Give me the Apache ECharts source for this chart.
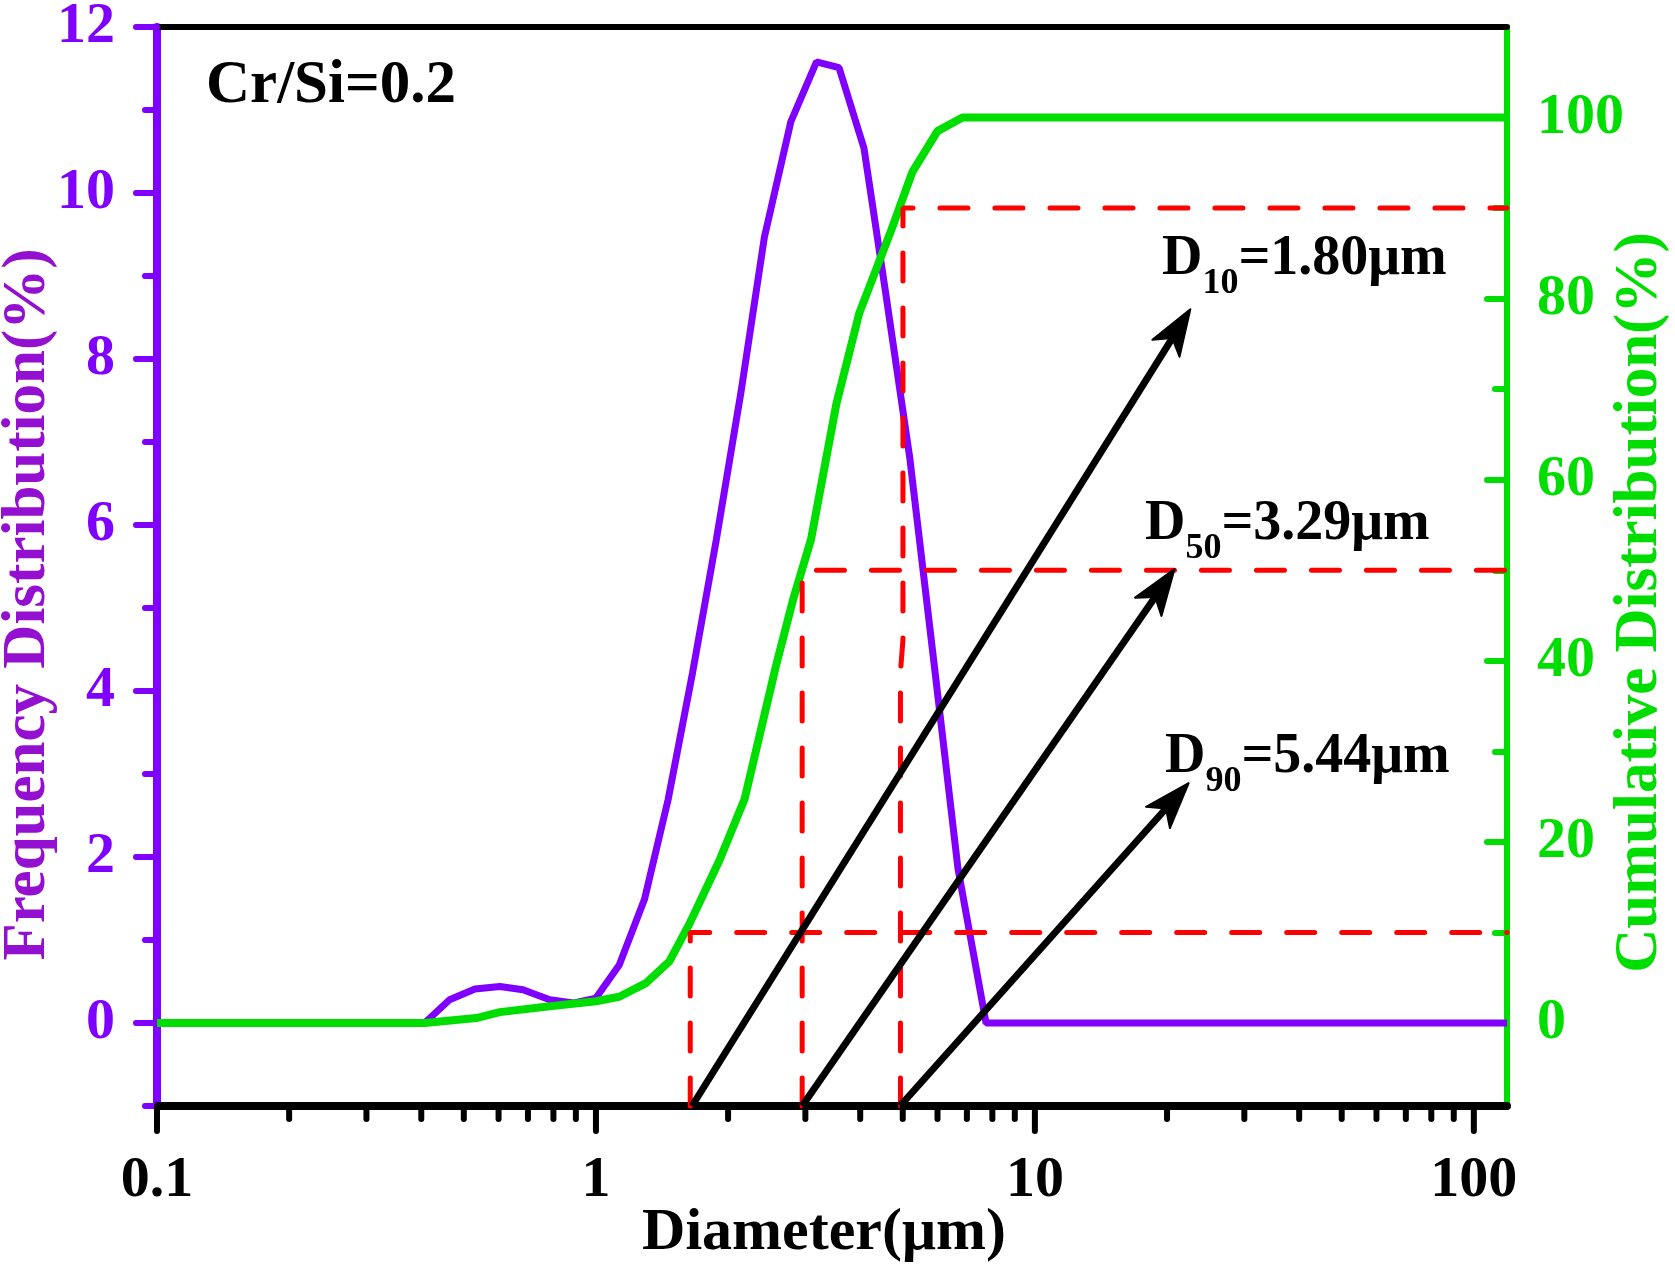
<!DOCTYPE html>
<html>
<head>
<meta charset="utf-8">
<script src="https://cdn.jsdelivr.net/npm/echarts@6/dist/echarts.min.js"></script>
<style>
html,body{margin:0;padding:0;background:#fff;}
#chart{width:1675px;height:1269px;}
</style>
</head>
<body>
<div id="chart"></div>
<script>
// ---------- data ----------
const X_MIN = 0.1, X_MAX = 119;
const LEFT_MIN = -1, LEFT_MAX = 12;
const RIGHT_MAX = 110, RIGHT_MIN = -110 / 12;

// Frequency distribution (%), purple, left axis
const freqX = [0.1, 0.407, 0.464, 0.530, 0.604, 0.682, 0.785, 0.887, 1.0, 1.13, 1.29, 1.46, 1.66, 1.88, 2.14, 2.42, 2.78, 3.18, 3.58, 4.08, 4.57, 5.19, 5.89, 6.68, 7.74, 119];
const freqY = [0, 0, 0.28, 0.41, 0.44, 0.40, 0.28, 0.24, 0.30, 0.70, 1.49, 2.69, 4.22, 5.82, 7.6, 9.47, 10.86, 11.58, 11.51, 10.54, 8.8, 6.8, 4.34, 1.86, 0, 0];

// Cumulative distribution (%), green, right axis
const cumX = [0.1, 0.407, 0.534, 0.604, 0.785, 1.0, 1.13, 1.30, 1.47, 1.635, 1.913, 2.18, 2.57, 2.81, 3.09, 3.53, 3.98, 4.71, 5.26, 6.0, 6.84, 119];
const cumY = [0, 0, 0.55, 1.2, 1.85, 2.4, 2.9, 4.4, 6.8, 11.0, 18.0, 24.7, 39.4, 46.7, 53.4, 68.4, 78.4, 87.6, 94.0, 98.5, 100, 100];

// Red dashed D10 / D50 / D90 guide lines (right-axis values)
const d10LineX = [1.64, 1.64, 119];
const d10LineY = [RIGHT_MIN, 10, 10];
const d50LineX = [2.95, 2.95, 119];
const d50LineY = [RIGHT_MIN, 50, 50];
const d90LineX = [4.94, 4.94, 5.005, 5.005, 119];
const d90LineY = [RIGHT_MIN, 38.8, 42.3, 90, 90];

// Black arrows (left-axis values)
const arrowStartX = [1.655, 2.95, 4.93];
const arrowStartY = [-1, -1, -1];
const arrowEndX = [22.6, 20.8, 22.4];
const arrowEndY = [8.60, 5.47, 2.89];

// Tick values
const xMajorTicks = [0.1, 1, 10, 100];
const xMinorTicks = [0.2,0.3,0.4,0.5,0.6,0.7,0.8,0.9, 2,3,4,5,6,7,8,9, 20,30,40,50,60,70,80,90];
const leftMajor = [0, 2, 4, 6, 8, 10, 12];
const leftMinor = [-1, 1, 3, 5, 7, 9, 11];
const rightMajor = [0, 20, 40, 60, 80, 100];
const rightMinor = [10, 30, 50, 70, 90];

// Texts
const sampleLabel = 'Cr/Si=0.2';
const dLabels = [['10', '=1.80μm'], ['50', '=3.29μm'], ['90', '=5.44μm']];
const xTitle = 'Diameter(μm)';
const leftTitle = 'Frequency Distribution(%)';
const rightTitle = 'Cumulative Distribution(%)';

// ---------- styles ----------
const FONT = '"Liberation Serif", "Times New Roman", serif';
const PURPLE = '#7F00FF';
const PURPLE_NAME = '#9410D0';
const GREEN = '#00DD00';
const RED = '#FF0000';

const zip = (a, b) => a.map((v, i) => [v, b[i]]);

const chart = echarts.init(document.getElementById('chart'), null, {renderer: 'canvas'});

const dashStyle = {color: RED, width: 5, type: [28, 27], cap: 'round'};

function redLine(xs, ys) {
  return {
    type: 'line', xAxisIndex: 0, yAxisIndex: 2, data: zip(xs, ys),
    symbol: 'none', showSymbol: false, clip: false, z: 4, silent: true,
    lineStyle: dashStyle
  };
}

const tickData = xMajorTicks.map(v => [v, LEFT_MIN, 1]).concat(xMinorTicks.map(v => [v, LEFT_MIN, 0]));
const arrowData = arrowStartX.map((v, i) => [v, arrowStartY[i], arrowEndX[i], arrowEndY[i]]);

const labelTop = [232, 497, 730];
const labelLeft = [1162, 1145, 1165];

const graphics = [
  {
    type: 'text', x: 206, y: 56, z: 10,
    style: {text: sampleLabel, font: 'bold 61px ' + FONT, fill: '#000', verticalAlign: 'top', align: 'left'}
  }
].concat(dLabels.map((d, i) => ({
  type: 'text', x: labelLeft[i], y: labelTop[i], z: 10,
  style: {
    text: '{m|D}{s|' + d[0] + '}{m|' + d[1] + '}',
    verticalAlign: 'top', align: 'left',
    rich: {
      m: {font: 'bold 56px ' + FONT, fill: '#000', lineHeight: 60, verticalAlign: 'top'},
      s: {font: 'bold 36px ' + FONT, fill: '#000', lineHeight: 36, verticalAlign: 'top', padding: [34, 0, 0, 0]}
    }
  }
})));

const option = {
  animation: false,
  backgroundColor: '#fff',
  grid: {left: 157, right: 168, top: 27, bottom: 163, containLabel: false, outerBoundsMode: 'none'},
  xAxis: [
    {
      type: 'log', logBase: 10, min: X_MIN, max: X_MAX, position: 'bottom',
      axisLine: {show: true, onZero: false, lineStyle: {color: '#000', width: 8}},
      axisTick: {show: false},
      minorTick: {show: false},
      splitLine: {show: false},
      axisLabel: {
        color: '#000', fontSize: 58, fontWeight: 'bold', fontFamily: FONT, margin: 46,
        formatter: function (v) {
          const l = Math.log10(v);
          return Math.abs(l - Math.round(l)) < 1e-6 ? String(+v.toPrecision(6)) : '';
        }
      },
      name: xTitle, nameLocation: 'middle', nameGap: 97, nameMoveOverlap: false,
      nameTextStyle: {color: '#000', fontSize: 60, fontWeight: 'bold', fontFamily: FONT, padding: [0, 16, 0, 0]}
    },
    {
      type: 'log', logBase: 10, min: X_MIN, max: X_MAX, position: 'top',
      axisLine: {show: true, onZero: false, lineStyle: {color: '#000', width: 6}},
      axisTick: {show: false}, axisLabel: {show: false}, splitLine: {show: false}, minorTick: {show: false}
    }
  ],
  yAxis: [
    {
      type: 'value', position: 'left', min: LEFT_MIN, max: LEFT_MAX, interval: 1,
      axisLine: {show: true, onZero: false, lineStyle: {color: PURPLE, width: 8}},
      axisTick: {show: true, inside: false, length: 21, customValues: leftMajor, lineStyle: {color: PURPLE, width: 6, cap: 'round'}},
      axisLabel: {customValues: leftMajor, color: PURPLE, fontSize: 58, fontWeight: 'bold', fontFamily: FONT, margin: 42},
      splitLine: {show: false},
      name: leftTitle, nameLocation: 'middle', nameGap: 98, nameRotate: 90, nameMoveOverlap: false,
      nameTextStyle: {color: PURPLE_NAME, fontSize: 61, fontWeight: 'bold', fontFamily: FONT, padding: [0, 76, 0, 0]}
    },
    {
      type: 'value', position: 'left', min: LEFT_MIN, max: LEFT_MAX, interval: 1,
      axisLine: {show: false},
      axisTick: {show: true, inside: false, length: 12, customValues: leftMinor, lineStyle: {color: PURPLE, width: 6, cap: 'round'}},
      axisLabel: {show: false}, splitLine: {show: false}
    },
    {
      type: 'value', position: 'right', min: RIGHT_MIN, max: RIGHT_MAX,
      axisLine: {show: true, onZero: false, lineStyle: {color: GREEN, width: 6}},
      axisTick: {show: true, inside: true, length: 20, customValues: rightMajor, lineStyle: {color: GREEN, width: 6, cap: 'round'}},
      axisLabel: {customValues: rightMajor, color: GREEN, fontSize: 58, fontWeight: 'bold', fontFamily: FONT, margin: 30},
      splitLine: {show: false},
      name: rightTitle, nameLocation: 'middle', nameGap: 103, nameRotate: 90, nameMoveOverlap: false,
      nameTextStyle: {color: GREEN, fontSize: 61, fontWeight: 'bold', fontFamily: FONT, padding: [0, 72, 0, 0]}
    },
    {
      type: 'value', position: 'right', min: RIGHT_MIN, max: RIGHT_MAX,
      axisLine: {show: false},
      axisTick: {show: true, inside: true, length: 12, customValues: rightMinor, lineStyle: {color: GREEN, width: 6, cap: 'round'}},
      axisLabel: {show: false}, splitLine: {show: false}
    }
  ],
  series: [
    {
      name: 'Frequency', type: 'line', xAxisIndex: 0, yAxisIndex: 0,
      data: zip(freqX, freqY), symbol: 'none', showSymbol: false, z: 2, silent: true,
      lineStyle: {color: PURPLE, width: 7}
    },
    {
      name: 'Cumulative', type: 'line', xAxisIndex: 0, yAxisIndex: 2,
      data: zip(cumX, cumY), symbol: 'none', showSymbol: false, z: 3, silent: true,
      lineStyle: {color: GREEN, width: 8}
    },
    redLine(d10LineX, d10LineY),
    redLine(d50LineX, d50LineY),
    redLine(d90LineX, d90LineY),
    {
      name: 'xticks', type: 'custom', coordinateSystem: 'cartesian2d', xAxisIndex: 0, yAxisIndex: 0,
      data: tickData, encode: {x: 0, y: 1}, clip: false, z: 6, silent: true,
      renderItem: function (params, api) {
        const p = api.coord([api.value(0), api.value(1)]);
        const len = api.value(2) ? 25 : 13;
        return {type: 'line', shape: {x1: p[0], y1: p[1], x2: p[0], y2: p[1] + len},
          style: {stroke: '#000', lineWidth: 6, lineCap: 'round'}};
      }
    },
    {
      name: 'arrows', type: 'custom', coordinateSystem: 'cartesian2d', xAxisIndex: 0, yAxisIndex: 0,
      data: arrowData, encode: {x: [0, 2], y: [1, 3]}, clip: false, z: 5, silent: true,
      renderItem: function (params, api) {
        const p1 = api.coord([api.value(0), api.value(1)]);
        const p2 = api.coord([api.value(2), api.value(3)]);
        const dx = p2[0] - p1[0], dy = p2[1] - p1[1];
        const len = Math.hypot(dx, dy);
        const ux = dx / len, uy = dy / len, nx = -uy, ny = ux;
        const L = 46, W = 16, N = 12;
        const bx = p2[0] - ux * L, by = p2[1] - uy * L;
        const cx = p2[0] - ux * (L - N), cy = p2[1] - uy * (L - N);
        return {
          type: 'group',
          children: [
            {type: 'line', shape: {x1: p1[0], y1: p1[1], x2: cx, y2: cy},
              style: {stroke: '#000', lineWidth: 7}},
            {type: 'polygon', shape: {points: [[p2[0], p2[1]], [bx + nx * W, by + ny * W], [cx, cy], [bx - nx * W, by - ny * W]]},
              style: {fill: '#000', stroke: '#000', lineWidth: 2, lineJoin: 'round'}}
          ]
        };
      }
    }
  ],
  graphic: graphics
};

chart.setOption(option);
</script>
</body>
</html>
